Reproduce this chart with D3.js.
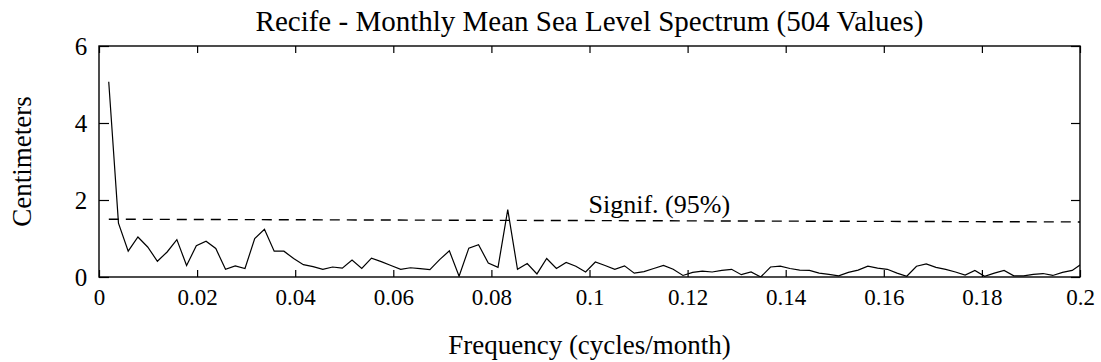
<!DOCTYPE html>
<html>
<head>
<meta charset="utf-8">
<script src="https://cdn.jsdelivr.net/npm/d3@7"></script>
<style>
  body { margin: 0; background: #fff; }
  svg { display: block; font-family: "Liberation Serif", "DejaVu Serif", serif; }
</style>
</head>
<body>
<svg id="chart" width="1101" height="362"></svg>
<script>
// Series length (number of monthly values) -> spectral frequency k / nValues
const nValues = 504;

// Amplitude (cm) for harmonics k = 1 .. 101
const amplitude = [
    5.07, 1.40, 0.67, 1.04, 0.78, 0.41, 0.65, 0.97, 0.30, 0.81,
    0.93, 0.74, 0.20, 0.29, 0.22, 1.00, 1.24, 0.67, 0.67, 0.48,
    0.32, 0.27, 0.20, 0.26, 0.23, 0.44, 0.22, 0.49, 0.40, 0.30,
    0.20, 0.24, 0.22, 0.19, 0.45, 0.68, 0.02, 0.75, 0.84, 0.36,
    0.25, 1.75, 0.20, 0.35, 0.08, 0.48, 0.22, 0.38, 0.28, 0.13,
    0.39, 0.30, 0.20, 0.29, 0.10, 0.14, 0.22, 0.30, 0.20, 0.04,
    0.12, 0.15, 0.13, 0.17, 0.20, 0.06, 0.13, 0.00, 0.26, 0.28,
    0.22, 0.18, 0.17, 0.10, 0.07, 0.03, 0.12, 0.18, 0.28, 0.23,
    0.20, 0.10, 0.02, 0.28, 0.34, 0.25, 0.20, 0.13, 0.05, 0.17,
    0.02, 0.10, 0.17, 0.03, 0.03, 0.07, 0.09, 0.04, 0.12, 0.17,
    0.35
];

// 95% significance level (start / end of the dashed line)
const signifFreq = [0.002, 0.2];
const signifLevel = [1.5, 1.43];

// Tick labels
const xTicks = [0, 0.02, 0.04, 0.06, 0.08, 0.1, 0.12, 0.14, 0.16, 0.18, 0.2];
const yTicks = [0, 2, 4, 6];

const titleText = 'Recife - Monthly Mean Sea Level Spectrum (504 Values)';
const xLabel = 'Frequency (cycles/month)';
const yLabel = 'Centimeters';
const signifText = 'Signif. (95%)';

// Layout
const margin = { left: 99, right: 21, top: 46, bottom: 85 };
const svg = d3.select('#chart');
const W = +svg.attr('width');
const H = +svg.attr('height');

const x = d3.scaleLinear().domain([0, 0.2]).range([margin.left, W - margin.right]);
const y = d3.scaleLinear().domain([0, 6]).range([H - margin.bottom, margin.top]);

const points = amplitude.map((a, i) => ({ f: (i + 1) / nValues, a }));
const fmt = d3.format('~g');

// Clip to plot box
svg.append('clipPath').attr('id', 'plotclip')
    .append('rect')
    .attr('x', x(0)).attr('y', y(6))
    .attr('width', x(0.2) - x(0)).attr('height', y(0) - y(6));

// Axes with inward ticks
const styleAxis = (g) => {
    g.select('.domain').remove();
    g.selectAll('.tick line').attr('stroke', '#000').attr('stroke-width', 1.2);
    g.selectAll('.tick text').attr('fill', '#000');
};

svg.append('g')
    .attr('transform', `translate(0,${y(0)})`)
    .call(d3.axisBottom(x).tickValues(xTicks).tickFormat(fmt).tickSizeInner(-7).tickSizeOuter(0).tickPadding(12))
    .call(styleAxis)
    .call(g => g.selectAll('.tick text').attr('font-size', 23).attr('font-family', 'Liberation Serif'));

svg.append('g')
    .attr('transform', `translate(0,${y(6)})`)
    .call(d3.axisTop(x).tickValues(xTicks).tickFormat('').tickSizeInner(-7).tickSizeOuter(0))
    .call(styleAxis);

svg.append('g')
    .attr('transform', `translate(${x(0)},0)`)
    .call(d3.axisLeft(y).tickValues(yTicks).tickFormat(fmt).tickSizeInner(-10).tickSizeOuter(0).tickPadding(-2))
    .call(styleAxis)
    .call(g => g.selectAll('.tick text').attr('font-size', 25).attr('font-family', 'Liberation Serif').attr('dx', '-0.55em'));

svg.append('g')
    .attr('transform', `translate(${x(0.2)},0)`)
    .call(d3.axisRight(y).tickValues(yTicks).tickFormat('').tickSizeInner(-9).tickSizeOuter(0))
    .call(styleAxis);

// Frame
svg.append('rect')
    .attr('x', x(0)).attr('y', y(6))
    .attr('width', x(0.2) - x(0)).attr('height', y(0) - y(6))
    .attr('fill', 'none').attr('stroke', '#000').attr('stroke-width', 1.4);

// Significance line
svg.append('line')
    .attr('x1', x(signifFreq[0])).attr('y1', y(signifLevel[0]))
    .attr('x2', x(signifFreq[1])).attr('y2', y(signifLevel[1]))
    .attr('stroke', '#000').attr('stroke-width', 1.4)
    .attr('stroke-dasharray', '10,7');

svg.append('text')
    .attr('x', x(0.0998)).attr('y', y(signifLevel[0]) - 6)
    .attr('font-size', 26)
    .text(signifText);

// Spectrum line
svg.append('path')
    .datum(points)
    .attr('clip-path', 'url(#plotclip)')
    .attr('fill', 'none')
    .attr('stroke', '#000')
    .attr('stroke-width', 1.2)
    .attr('d', d3.line().x(d => x(d.f)).y(d => y(d.a)));

// Title and axis labels
svg.append('text')
    .attr('x', (x(0) + x(0.2)) / 2).attr('y', 31)
    .attr('text-anchor', 'middle').attr('font-size', 29)
    .text(titleText);

svg.append('text')
    .attr('x', (x(0) + x(0.2)) / 2).attr('y', 354)
    .attr('text-anchor', 'middle').attr('font-size', 27)
    .text(xLabel);

svg.append('text')
    .attr('transform', `translate(31,${(y(0) + y(6)) / 2}) rotate(-90)`)
    .attr('text-anchor', 'middle').attr('font-size', 27)
    .text(yLabel);
</script>
</body>
</html>
